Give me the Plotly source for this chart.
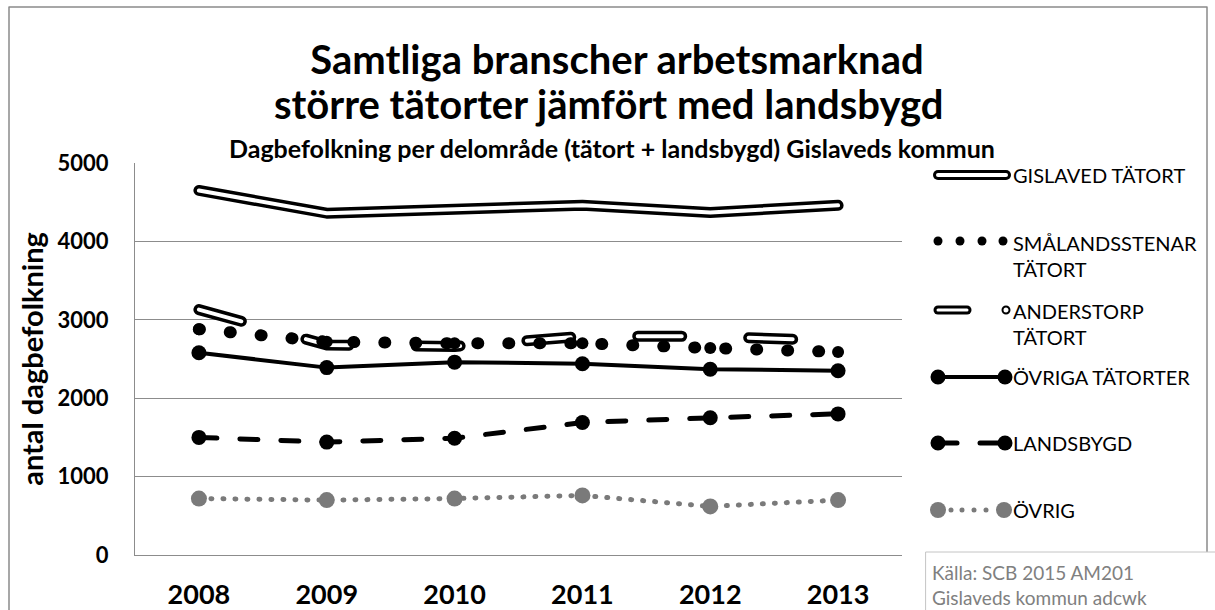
import plotly.graph_objects as go

# ---------------- data ----------------
years = ["2008", "2009", "2010", "2011", "2012", "2013"]
gislaved = [4650, 4360, 4410, 4460, 4370, 4460]
smalandsstenar = [2880, 2720, 2700, 2700, 2640, 2590]
anderstorp = [3130, 2680, 2660, 2790, 2790, 2730]
ovriga = [2580, 2390, 2460, 2440, 2370, 2350]
landsbygd = [1500, 1440, 1490, 1690, 1750, 1800]
ovrig = [720, 700, 720, 760, 620, 700]

series_names = ["GISLAVED TÄTORT", "SMÅLANDSSTENAR<br>TÄTORT", "ANDERSTORP<br>TÄTORT",
                "ÖVRIGA TÄTORTER", "LANDSBYGD", "ÖVRIG"]
y_ticks = [0, 1000, 2000, 3000, 4000, 5000]

FONT = "Lato"
GRAY = "#7a7a7a"
GRID = "#8c8c8c"

# plot area in pixels
W, H = 1215, 610
L, R, T, B = 135, 902, 163, 555


def px_x(px):
    return (px - L) / (R - L)


def px_y(py):
    return (B - py) / (B - T)


fig = go.Figure()

# GISLAVED: double line
fig.add_trace(go.Scatter(x=years, y=gislaved, mode="lines", name="GISLAVED TÄTORT",
                         line=dict(color="black", width=11), showlegend=False, hoverinfo="skip"))
fig.add_trace(go.Scatter(x=years, y=gislaved, mode="lines", name="GISLAVED TÄTORT",
                         line=dict(color="white", width=4), showlegend=False))
# ANDERSTORP: dashed double line
fig.add_trace(go.Scatter(x=years, y=anderstorp, mode="lines", name="ANDERSTORP TÄTORT",
                         line=dict(color="black", width=11, dash="44px,67px"),
                         showlegend=False, hoverinfo="skip"))
fig.add_trace(go.Scatter(x=years, y=anderstorp, mode="lines", name="ANDERSTORP TÄTORT",
                         line=dict(color="white", width=4, dash="44px,67px"), showlegend=False))
# SMÅLANDSSTENAR: round dots
fig.add_trace(go.Scatter(x=years, y=smalandsstenar, mode="lines+markers", name="SMÅLANDSSTENAR TÄTORT",
                         line=dict(color="black", width=12, dash="1px,30px"),
                         marker=dict(color="black", size=12), showlegend=False))
# ÖVRIGA TÄTORTER
fig.add_trace(go.Scatter(x=years, y=ovriga, mode="lines+markers", name="ÖVRIGA TÄTORTER",
                         line=dict(color="black", width=4),
                         marker=dict(color="black", size=15), showlegend=False))
# LANDSBYGD
fig.add_trace(go.Scatter(x=years, y=landsbygd, mode="lines+markers", name="LANDSBYGD",
                         line=dict(color="black", width=5, dash="18px,23px"),
                         marker=dict(color="black", size=15), showlegend=False))
# ÖVRIG
fig.add_trace(go.Scatter(x=years, y=ovrig, mode="lines+markers", name="ÖVRIG",
                         line=dict(color=GRAY, width=5, dash="1px,11px"),
                         marker=dict(color=GRAY, size=16), showlegend=False))

shapes = []
annotations = []

# outer chart border
shapes.append(dict(type="rect", xref="paper", yref="paper",
                   x0=px_x(9), x1=px_x(1207), y0=px_y(620), y1=px_y(7),
                   line=dict(color="#8a8a8a", width=1.5), layer="below"))
# source box
shapes.append(dict(type="rect", xref="paper", yref="paper",
                   x0=px_x(926), x1=px_x(1225), y0=px_y(625), y1=px_y(552),
                   line=dict(color="#c4c4c4", width=1), fillcolor="white"))
annotations.append(dict(text="Källa: SCB 2015 AM201<br>Gislaveds kommun adcwk",
                        xref="paper", yref="paper", x=px_x(930), y=px_y(585),
                        xanchor="left", yanchor="middle", align="left", showarrow=False,
                        font=dict(family=FONT, size=19, color="#808080")))


def line_shape(x0, x1, y, color, width, dash="solid"):
    return dict(type="line", xref="paper", yref="paper", x0=px_x(x0), x1=px_x(x1),
                y0=px_y(y), y1=px_y(y), line=dict(color=color, width=width, dash=dash))


def circle(cx, cy, r, color, fill=None, lw=0):
    return dict(type="circle", xref="paper", yref="paper",
                x0=px_x(cx - r), x1=px_x(cx + r), y0=px_y(cy + r), y1=px_y(cy - r),
                fillcolor=fill if fill else color, line=dict(color=color, width=lw))


# ---------- custom legend ----------
ly = [175, 241, 310, 377, 443, 510]
# GISLAVED
shapes.append(line_shape(938, 1006, ly[0], "black", 10))
shapes.append(line_shape(938, 1006, ly[0], "white", 4))
# SMÅLANDSSTENAR
for cx in [938, 960, 982, 1003]:
    shapes.append(circle(cx, ly[1], 4.5, "black"))
# ANDERSTORP
shapes.append(line_shape(938, 967, ly[2], "black", 9))
shapes.append(line_shape(938, 967, ly[2], "white", 3))
shapes.append(circle(1006, ly[2], 3.5, "black", fill="white", lw=2))
# ÖVRIGA
shapes.append(line_shape(938, 1005, ly[3], "black", 4))
shapes.append(circle(938, ly[3], 7.5, "black"))
shapes.append(circle(1005, ly[3], 7.5, "black"))
# LANDSBYGD
shapes.append(line_shape(938, 957, ly[4], "black", 5))
shapes.append(line_shape(980, 1005, ly[4], "black", 5))
shapes.append(circle(938, ly[4], 7.5, "black"))
shapes.append(circle(1005, ly[4], 7.5, "black"))
# ÖVRIG
for cx in [951, 962, 974, 986]:
    shapes.append(circle(cx, ly[5], 2.5, GRAY))
shapes.append(circle(938, ly[5], 8, GRAY))
shapes.append(circle(1004, ly[5], 8, GRAY))

legend_text_y = [175, 256, 324, 377, 443, 510]
for name, yy in zip(series_names, legend_text_y):
    annotations.append(dict(text=name, xref="paper", yref="paper", x=px_x(1011), y=px_y(yy),
                            xanchor="left", yanchor="middle", align="left", showarrow=False,
                            font=dict(family=FONT, size=20, color="black")))

# title second line and subtitle
annotations.append(dict(text="<b>större tätorter jämfört med landsbygd</b>", xref="paper", yref="paper",
                        x=px_x(609), y=px_y(104), xanchor="center", yanchor="middle",
                        showarrow=False, font=dict(family=FONT, size=40, color="black")))
annotations.append(dict(text="<b>Dagbefolkning per delområde (tätort + landsbygd) Gislaveds kommun</b>",
                        xref="paper", yref="paper", x=px_x(612), y=px_y(148),
                        xanchor="center", yanchor="middle", showarrow=False,
                        font=dict(family=FONT, size=25, color="black")))

fig.update_layout(
    width=W, height=H, autosize=False,
    margin=dict(l=L, r=W - R, t=T, b=H - B, pad=0),
    paper_bgcolor="white", plot_bgcolor="white",
    title=dict(text="<b>Samtliga branscher arbetsmarknad</b>", x=617 / W, xanchor="center",
               y=1 - 60 / H, yanchor="middle", xref="container", yref="container",
               font=dict(family=FONT, size=40, color="black")),
    font=dict(family=FONT, color="black"),
    shapes=shapes, annotations=annotations,
    xaxis=dict(type="category", range=[-0.5, 5.5], showgrid=False, showline=True,
               linecolor=GRID, linewidth=1, ticks="", ticklabelstandoff=16, automargin=False,
               tickfont=dict(family=FONT, size=27, color="black", weight="bold"),
               fixedrange=True),
    yaxis=dict(range=[0, 5000], tickvals=y_ticks, showgrid=True, gridcolor=GRID, gridwidth=1,
               showline=True, linecolor=GRID, linewidth=1, ticks="", ticklabelstandoff=21,
               automargin=False,
               tickfont=dict(family=FONT, size=22, color="black", weight="bold"),
               title=dict(text="<b>antal dagbefolkning</b>", standoff=5,
                          font=dict(family=FONT, size=29, color="black")),
               zeroline=False, fixedrange=True),
    hovermode=False,
)

post = """
document.body.style.margin = '0';
document.body.style.overflow = 'hidden';
var gd = document.getElementById('{plot_id}');
function rc(){
  gd.querySelectorAll('.scatterlayer path.js-line, .shapelayer path').forEach(function(p){
    p.style.strokeLinecap = 'round'; p.style.strokeLinejoin = 'round';
  });
}
rc();
gd.on('plotly_afterplot', rc);
setTimeout(rc, 50);
"""

fig.write_html("out.html", post_script=post, config={"displayModeBar": False})
